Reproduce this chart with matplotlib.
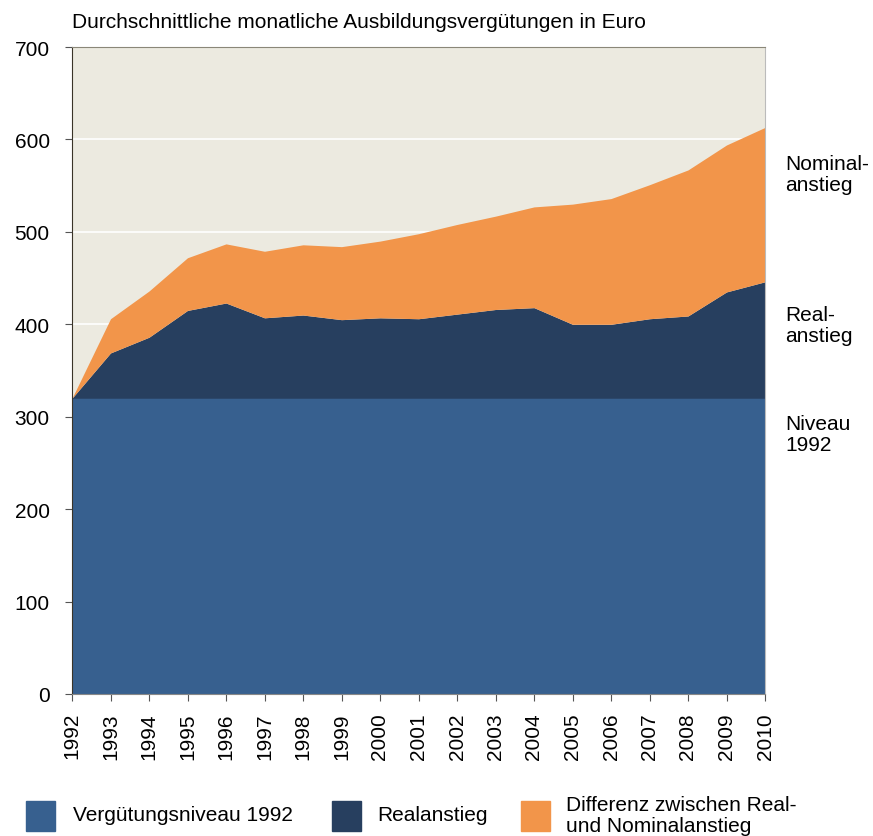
import matplotlib
matplotlib.use("Agg")
import matplotlib.pyplot as plt
from matplotlib.patches import Rectangle

plt.rcParams['font.family'] = ['Liberation Sans', 'DejaVu Sans']

years = list(range(1992, 2011))
niveau_1992 = [320] * len(years)
real = [320, 369, 386, 415, 423, 407, 410, 405, 407, 406, 411, 416, 418, 400, 400, 406, 409, 435, 446]
nominal = [320, 406, 436, 472, 487, 479, 486, 484, 490, 498, 508, 517, 527, 530, 536, 551, 567, 594, 613]

c_niveau = "#37608F"
c_real = "#273F5F"
c_diff = "#F2954A"
c_bg = "#ECEAE0"

fig = plt.figure(figsize=(8.73, 8.37), dpi=100)
ax = fig.add_axes([72 / 873, 1 - 695 / 837, (765 - 72) / 873, (695 - 48) / 837])
ax.set_facecolor(c_bg)

# white gridlines behind the areas
for y in range(100, 700, 100):
    ax.axhline(y, color="white", lw=1.2, zorder=1)

ax.fill_between(years, 0, niveau_1992, color=c_niveau, lw=0, zorder=2)
ax.fill_between(years, niveau_1992, real, color=c_real, lw=0, zorder=2)
ax.fill_between(years, real, nominal, color=c_diff, lw=0, zorder=2)

ax.set_xlim(1992, 2010)
ax.set_ylim(0, 700)
ax.set_yticks(range(0, 701, 100))
ax.set_xticks(years)
ax.set_xticklabels([str(y) for y in years], rotation=90, fontsize=15)
ax.tick_params(axis="y", labelsize=15, length=5, color="#555555", pad=11)
ax.tick_params(axis="x", length=5, color="#555555", pad=8)

ax.spines["left"].set_color("#3A3428")
ax.spines["bottom"].set_color("#888888")
ax.spines["top"].set_color("#8A8778")
ax.spines["right"].set_color("#BBBBBB")

fig.text(72 / 873, 1 - 22 / 837, "Durchschnittliche monatliche Ausbildungsvergütungen in Euro",
         fontsize=15, va="center", ha="left")

fig.text(785 / 873, 1 - 175 / 837, "Nominal-\nanstieg", fontsize=15, va="center", ha="left", linespacing=1.15)
fig.text(785 / 873, 1 - 326 / 837, "Real-\nanstieg", fontsize=15, va="center", ha="left", linespacing=1.15)
fig.text(785 / 873, 1 - 435 / 837, "Niveau\n1992", fontsize=15, va="center", ha="left", linespacing=1.15)

legend_items = [
    (26, c_niveau, 73, "Vergütungsniveau 1992"),
    (332, c_real, 377, "Realanstieg"),
    (521, c_diff, 566, "Differenz zwischen Real-\nund Nominalanstieg"),
]
for x0, col, tx, label in legend_items:
    fig.patches.append(Rectangle((x0 / 873, 1 - 832 / 837), 29 / 873, 30 / 837,
                                 transform=fig.transFigure, color=col))
    fig.text(tx / 873, 1 - 816 / 837, label, fontsize=15, va="center", ha="left", linespacing=1.1)

fig.savefig("out.png", dpi=100)
plt.close(fig)
